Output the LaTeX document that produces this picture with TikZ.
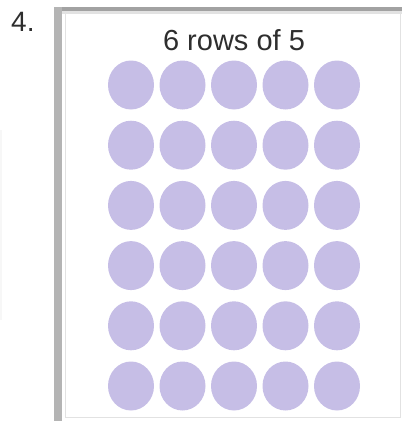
\documentclass[tikz,border=0pt]{standalone}
\usepackage{fontspec}
\setmainfont{Liberation Sans}
\usepackage{tikz}
\usetikzlibrary{shapes.geometric, positioning}
\definecolor{arraylilac}{HTML}{C6BEE6}
\definecolor{arrayframe}{HTML}{B4B4B4}
\definecolor{arrayframetop}{HTML}{A2A2A2}
\definecolor{arrayedge}{HTML}{E2E2E2}
\definecolor{arrayink}{HTML}{2E2E2E}

\begin{document}
\begin{tikzpicture}[x=1pt, y=-1pt,
    dot/.style={ellipse, fill=arraylilac, minimum width=46pt, minimum height=49pt, inner sep=0pt}]
  \useasboundingbox (0,0) rectangle (402,421);
  % card frame
  \fill[arrayframetop] (54,7) rectangle (402,11);
  \fill[arrayedge] (62,11) rectangle (402,14);
  \fill[arrayframe] (54,7) rectangle (62,421);
  \draw[arrayedge, line width=1pt] (65,14) -- (65,417) -- (400,417) -- (400,14);
  \draw[black!3, line width=1.5pt] (1,130) -- (1,320);
  % labels
  \node[font=\fontsize{28}{30}\selectfont, text=arrayink, anchor=west, inner sep=0pt] (qnum) at (11,22) {4.};
  \node[font=\fontsize{29}{31}\selectfont, text=arrayink, inner sep=0pt] (title) at (234,40) {6 rows of 5};
  % the array
  \foreach \r in {1,...,6}
    \foreach \c in {1,...,5}
      \node[dot] (dot-\r-\c) at ({131+51.5*(\c-1)}, {85+60.2*(\r-1)}) {};
\end{tikzpicture}
\end{document}
